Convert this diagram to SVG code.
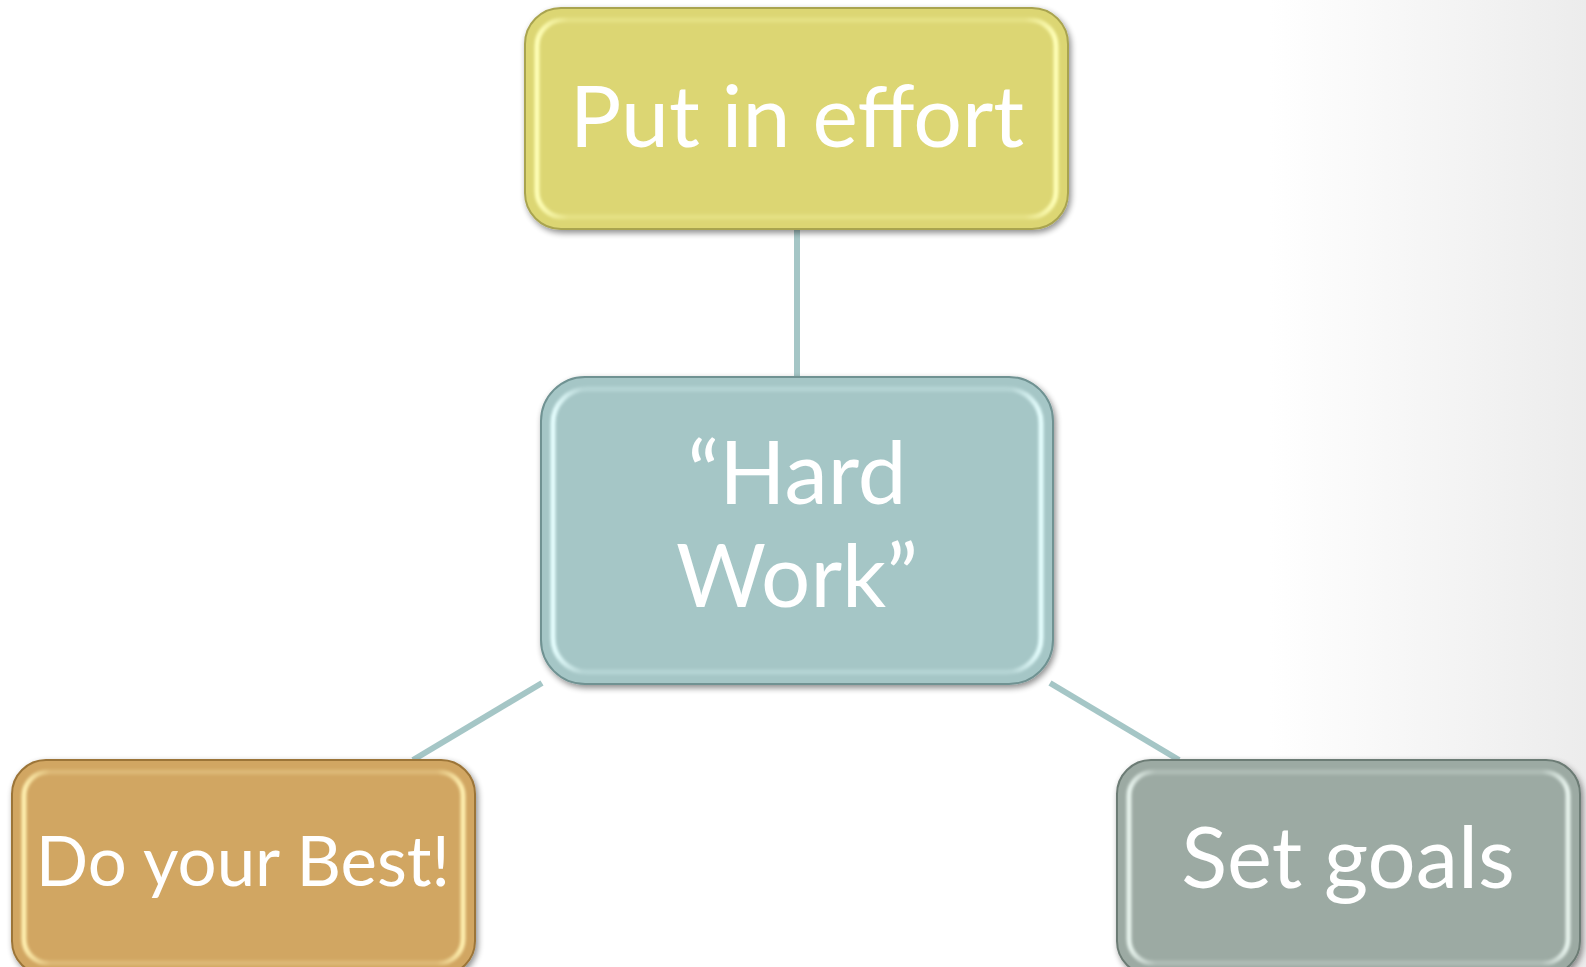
<svg xmlns="http://www.w3.org/2000/svg" width="1586" height="967" viewBox="0 0 1586 967">
<defs>
<style>
.lbl{font-family:Lato,"Noto Sans","Liberation Sans",sans-serif;fill:#ffffff;text-anchor:middle}
.edge{stroke:#a5c6c6;stroke-width:6;fill:none}
.hl{fill:none;stroke-width:5;filter:url(#blur)}
</style>
<linearGradient id="bg" x1="0" y1="0" x2="1" y2="0">
<stop offset="0.8" stop-color="#ffffff"/>
<stop offset="1" stop-color="#ececec"/>
</linearGradient>
<filter id="sh" x="-10%" y="-10%" width="120%" height="130%">
<feGaussianBlur in="SourceAlpha" stdDeviation="3"/>
<feOffset dx="2" dy="3" result="b"/>
<feComponentTransfer><feFuncA type="linear" slope="0.45"/></feComponentTransfer>
<feMerge><feMergeNode/><feMergeNode in="SourceGraphic"/></feMerge>
</filter>
<filter id="blur"><feGaussianBlur stdDeviation="1.5"/></filter>
<linearGradient id="hlY" x1="0" y1="0" x2="1" y2="0">
<stop offset="0" stop-color="#ffffb8" stop-opacity="1"/>
<stop offset="0.06" stop-color="#ffffb8" stop-opacity="0.25"/>
<stop offset="0.94" stop-color="#ffffb8" stop-opacity="0.25"/>
<stop offset="1" stop-color="#ffffb8" stop-opacity="1"/>
</linearGradient>
<linearGradient id="hlB" x1="0" y1="0" x2="1" y2="0">
<stop offset="0" stop-color="#e6ffff" stop-opacity="1"/>
<stop offset="0.06" stop-color="#e6ffff" stop-opacity="0.25"/>
<stop offset="0.94" stop-color="#e6ffff" stop-opacity="0.25"/>
<stop offset="1" stop-color="#e6ffff" stop-opacity="1"/>
</linearGradient>
<linearGradient id="hlO" x1="0" y1="0" x2="1" y2="0">
<stop offset="0" stop-color="#fff0b0" stop-opacity="1"/>
<stop offset="0.06" stop-color="#fff0b0" stop-opacity="0.25"/>
<stop offset="0.94" stop-color="#fff0b0" stop-opacity="0.25"/>
<stop offset="1" stop-color="#fff0b0" stop-opacity="1"/>
</linearGradient>
<linearGradient id="hlG" x1="0" y1="0" x2="1" y2="0">
<stop offset="0" stop-color="#e8f4ee" stop-opacity="1"/>
<stop offset="0.06" stop-color="#e8f4ee" stop-opacity="0.25"/>
<stop offset="0.94" stop-color="#e8f4ee" stop-opacity="0.25"/>
<stop offset="1" stop-color="#e8f4ee" stop-opacity="1"/>
</linearGradient>
</defs>
<rect x="0" y="0" width="1586" height="967" fill="url(#bg)"/>
<g id="connectors">
<line class="edge" x1="797" y1="229" x2="797" y2="377"/>
<line class="edge" x1="542" y1="683" x2="413" y2="760"/>
<line class="edge" x1="1050" y1="683" x2="1179" y2="760"/>
</g>
<g id="node-effort" filter="url(#sh)">
<rect x="525" y="8" width="543" height="221" rx="36" fill="#dcd673" stroke="#a9a450" stroke-width="2"/>
<rect x="537" y="20" width="519" height="197" rx="26" class="hl" stroke="url(#hlY)"/>
<text class="lbl" x="797" y="147" font-size="86">Put in effort</text>
</g>
<g id="node-hardwork" filter="url(#sh)">
<rect x="541" y="377" width="512" height="307" rx="44" fill="#a5c6c6" stroke="#6f9292" stroke-width="2"/>
<rect x="553" y="389" width="488" height="283" rx="34" class="hl" stroke="url(#hlB)"/>
<text class="lbl" x="797" y="504" font-size="87">“Hard</text>
<text class="lbl" x="797" y="607" font-size="87">Work”</text>
</g>
<g id="node-best" filter="url(#sh)">
<rect x="12" y="760" width="463" height="215" rx="34" fill="#d1a662" stroke="#9c7538" stroke-width="2"/>
<rect x="24" y="772" width="439" height="191" rx="24" class="hl" stroke="url(#hlO)"/>
<text class="lbl" x="243" y="886" font-size="69">Do your Best!</text>
</g>
<g id="node-goals" filter="url(#sh)">
<rect x="1117" y="760" width="463" height="215" rx="34" fill="#9caaa3" stroke="#6c7b74" stroke-width="2"/>
<rect x="1129" y="772" width="439" height="191" rx="24" class="hl" stroke="url(#hlG)"/>
<text class="lbl" x="1348" y="888" font-size="85">Set goals</text>
</g>
</svg>
